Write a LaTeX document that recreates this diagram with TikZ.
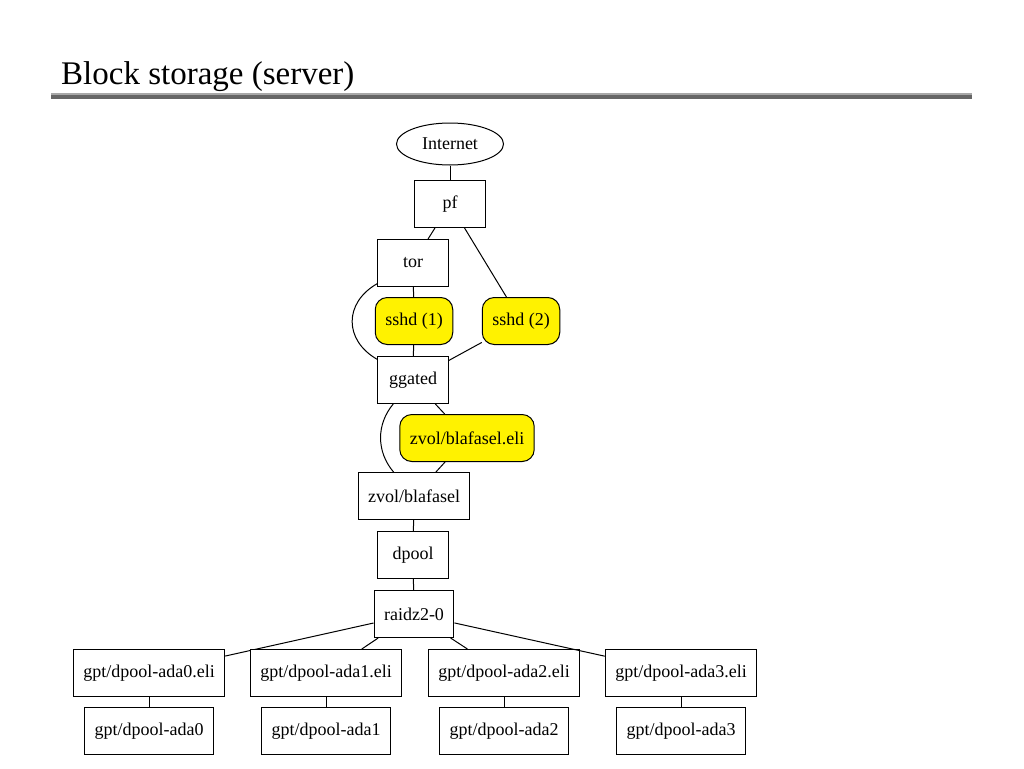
\documentclass[tikz,border=0pt]{standalone}
\usepackage{fontspec}
\setmainfont{Liberation Serif}
\usetikzlibrary{shapes.geometric}
\definecolor{ruleLight}{HTML}{A8A8A8}
\definecolor{ruleDark}{HTML}{666666}
\tikzset{
  % Plain graph node: devices and daemons.
  blk/box/.style={
    draw=black, fill=white, line width=1pt, inner xsep=10pt, inner ysep=0pt,
    minimum width=71pt, minimum height=47pt, font=\fontsize{18}{20}\selectfont
  },
  % Highlighted services / encrypted providers.
  blk/svc/.style={
    blk/box, fill=yellow, rounded corners=12pt
  },
  % The outside world.
  blk/net/.style={
    blk/box, ellipse, minimum width=107pt, minimum height=42pt, inner sep=0pt
  },
  % Edges: undirected, thin.
  blk/link/.style={draw=black, line width=1pt},
  % Slide heading.
  blk/title/.style={font=\fontsize{33}{36}\selectfont, inner sep=0pt, anchor=base west}
}

\begin{document}
\begin{tikzpicture}[x=1pt,y=1pt]
  \useasboundingbox (0,0) rectangle (1024,-768);

  \node[blk/title] (title) at (61,-84) {Block storage (server)};
  \draw[ruleLight, line width=2.5pt] (51,-94) -- (972,-94);
  \draw[ruleDark, line width=3.6pt] (51,-97.2) -- (972,-97.2);

  \node[blk/net] (inet) at (450,-144) {Internet};
  \node[blk/box] (pf) at (450,-204) {pf};
  \node[blk/box] (tor) at (413,-263) {tor};
  \node[blk/svc] (sshdA) at (414,-321) {sshd (1)};
  \node[blk/svc] (sshdB) at (521,-321) {sshd (2)};
  \node[blk/box] (ggated) at (413,-380) {ggated};
  \node[blk/svc] (zvoleli) at (467,-438) {zvol/blafasel.eli};
  \node[blk/box] (zvol) at (414,-496) {zvol/blafasel};
  \node[blk/box] (dpool) at (413,-555) {dpool};
  \node[blk/box] (raidz) at (414,-614) {raidz2-0};

  \draw[blk/link] (inet) -- (pf);
  \draw[blk/link] (pf) -- (tor);
  \draw[blk/link] (pf) -- (sshdB);
  \draw[blk/link] (tor) -- (sshdA);
  \draw[blk/link] (tor) to[bend right=60, looseness=1.3] (ggated);
  \draw[blk/link] (sshdA) -- (ggated);
  \draw[blk/link] (sshdB) -- (ggated);
  \draw[blk/link] (ggated) -- (zvoleli);
  \draw[blk/link] (ggated) to[bend right=40] (zvol);
  \draw[blk/link] (zvoleli) -- (zvol);
  \draw[blk/link] (zvol) -- (dpool);
  \draw[blk/link] (dpool) -- (raidz);

  \foreach \i/\x in {0/149,1/326,2/504,3/681} {
    \node[blk/box] (eli\i) at (\x,-673) {gpt/dpool-ada\i.eli};
    \node[blk/box] (ada\i) at (\x,-731) {gpt/dpool-ada\i};
    \draw[blk/link] (raidz) -- (eli\i);
    \draw[blk/link] (eli\i) -- (ada\i);
  }
\end{tikzpicture}
\end{document}
